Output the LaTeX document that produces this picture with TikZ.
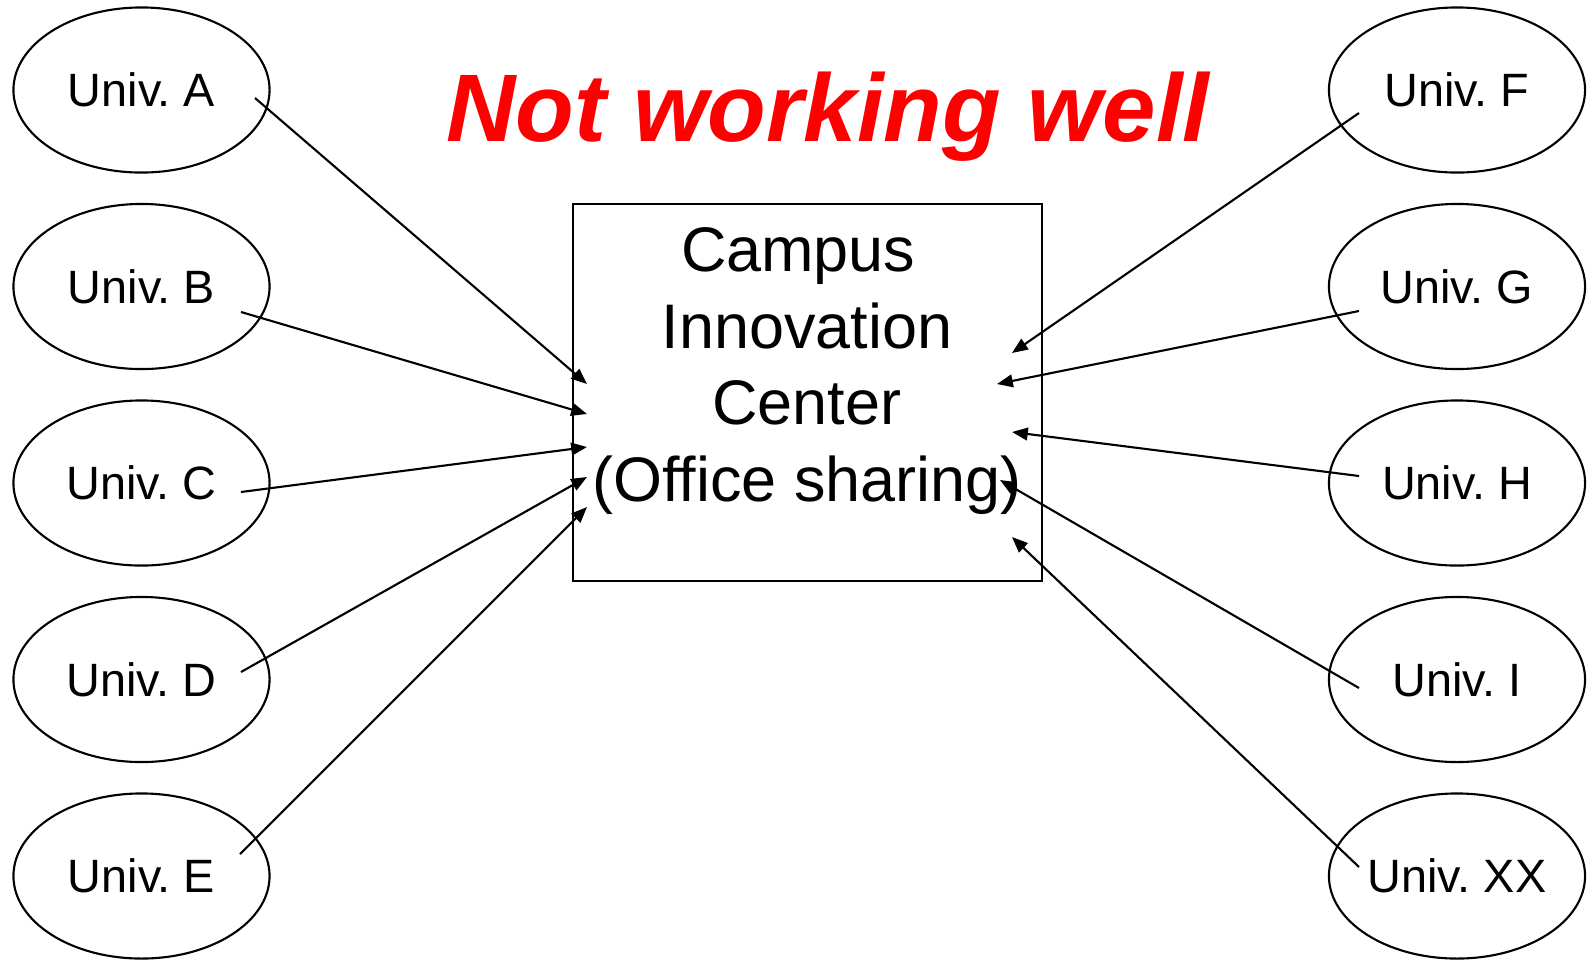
\documentclass[tikz,border=0pt]{standalone}
\usepackage{fontspec}
\setmainfont{Liberation Sans}
\frenchspacing
\usetikzlibrary{positioning,calc,arrows.meta,shapes.geometric}

\begin{document}
\begin{tikzpicture}[x=0.01cm,y=-0.01cm,
	univ/.style={draw,ellipse,line width=0.6pt,minimum width=2.56cm,minimum height=1.65cm,inner sep=0pt,font=\fontsize{13.3}{15}\selectfont},
	cbox/.style={draw,rectangle,line width=0.6pt,minimum width=4.69cm,minimum height=3.77cm,inner sep=0pt},
	ctext/.style={align=center,inner sep=0pt,font=\fontsize{17.9}{21.8}\selectfont},
	feed/.style={line width=0.6pt,-{Triangle[length=4.5pt,width=3.6pt]}}]
		\useasboundingbox (0,0) rectangle (1587,960);
		\node[text=red,anchor=base,font=\fontsize{27.3}{32}\selectfont\bfseries\itshape] (title) at (828,141) {Not working well};
		\node[cbox] (cic) at (807.5,392.5) {};
		\node[ctext] (cictext) at (807,371) {Campus\hspace*{5pt}\\Innovation\hspace*{6pt}\\Center\\(Office sharing)};
		\node[univ] (uA) at (141.5,90) {Univ. A};
		\node[univ] (uB) at (141.5,286.5) {Univ. B};
		\node[univ] (uC) at (141.5,483) {Univ. C};
		\node[univ] (uD) at (141.5,679.5) {Univ. D};
		\node[univ] (uE) at (141.5,876) {Univ. E};
		\node[univ] (uF) at (1457,90) {Univ. F};
		\node[univ] (uG) at (1457,286.5) {Univ. G};
		\node[univ] (uH) at (1457,483) {Univ. H};
		\node[univ] (uI) at (1457,679.5) {Univ. I};
		\node[univ] (uXX) at (1457,876) {Univ. XX};
		\path (255,98) coordinate (a0)
		(241,312) coordinate (b0)
		(241,492) coordinate (c0)
		(241,672) coordinate (d0)
		(240,854) coordinate (e0)
		(1359,113) coordinate (f0)
		(1359,311) coordinate (g0)
		(1359,476) coordinate (h0)
		(1359,688) coordinate (i0)
		(1359,867) coordinate (xx0);
		\path (587,384) coordinate (a1)
		(587,414) coordinate (b1)
		(587,447) coordinate (c1)
		(587,477) coordinate (d1)
		(587,507) coordinate (e1)
		(1012,353) coordinate (f1)
		(997,384) coordinate (g1)
		(1012,432) coordinate (h1)
		(1000,480) coordinate (i1)
		(1012,537) coordinate (xx1);
		\draw [feed] (a0)--(a1);
		\draw [feed] (b0)--(b1);
		\draw [feed] (c0)--(c1);
		\draw [feed] (d0)--(d1);
		\draw [feed] (e0)--(e1);
		\draw [feed] (f0)--(f1);
		\draw [feed] (g0)--(g1);
		\draw [feed] (h0)--(h1);
		\draw [feed] (i0)--(i1);
		\draw [feed] (xx0)--(xx1);
	\end{tikzpicture}
\end{document}
